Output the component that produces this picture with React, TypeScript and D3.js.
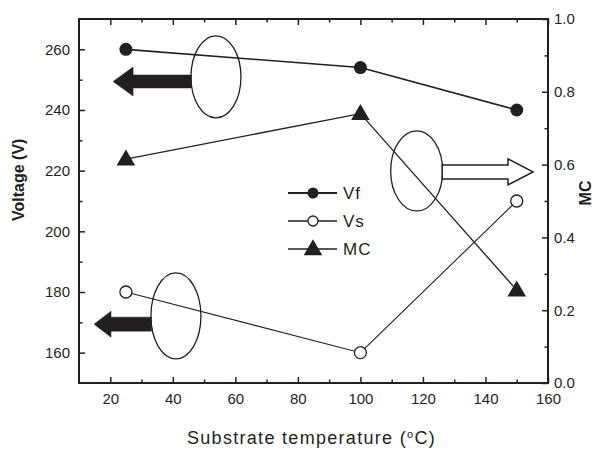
import React, { useEffect, useRef } from "react";
import * as d3 from "d3";

// substrate temperature (°C)
const temps = [25, 100, 150];
// voltages (V), left axis
const vf = [260, 254, 240];
const vs = [180, 160, 210];
// MC, right axis
const mc = [0.615, 0.74, 0.255];

const xTicks = [20, 40, 60, 80, 100, 120, 140, 160];
const xMinor = [30, 50, 70, 90, 110, 130, 150];
const vTicks = [160, 180, 200, 220, 240, 260];
const vMinor = [170, 190, 210, 230, 250];
const mcTicks = [0, 0.2, 0.4, 0.6, 0.8, 1.0];
const mcMinor = [0.1, 0.3, 0.5, 0.7, 0.9];

const legendLabels = ["Vf", "Vs", "MC"];

// annotation ellipses (centres in data units: temperature, voltage)
const ellipseX = [53.8, 41, 118];
const ellipseV = [250.9, 172.1, 219.9];
// arrows: tip temperature, voltage, and which ellipse they start from
const arrowTipX = [20.9, 14.8, 155.2];
const arrowV = [249.4, 169.4, 219.6];
const arrowFrom = [0, 1, 2];

const INK = "#231f20";
const FONT = "'Liberation Sans', Arial, sans-serif";

function App() {
    const ref = useRef(null);

    useEffect(() => {
        const width = 608;
        const height = 450;
        const margin = { top: 19, right: 60, bottom: 67, left: 79 };
        const innerW = width - margin.left - margin.right;
        const innerH = height - margin.top - margin.bottom;

        const root = d3.select(ref.current);
        root.selectAll("*").remove();

        const svg = root
            .attr("width", width)
            .attr("height", height)
            .style("background", "#fff");

        const g = svg.append("g").attr("transform", `translate(${margin.left},${margin.top})`);

        const x = d3.scaleLinear().domain([10, 160]).range([0, innerW]);
        const yV = d3.scaleLinear().domain([150, 270]).range([innerH, 0]);
        const yM = d3.scaleLinear().domain([0, 1]).range([innerH, 0]);

        const styleAxis = (sel, size = 15) => {
            sel.select(".domain").remove();
            sel.selectAll("line").attr("stroke", INK).attr("stroke-width", 1.5);
            sel.selectAll("text")
                .attr("fill", INK)
                .style("font-family", FONT)
                .style("font-size", `${size}px`);
        };

        // major axes with labels
        g.append("g")
            .attr("transform", `translate(0,${innerH})`)
            .call(d3.axisBottom(x).tickValues(xTicks).tickSize(-6).tickPadding(10))
            .call(styleAxis);
        g.append("g")
            .call(d3.axisLeft(yV).tickValues(vTicks).tickSize(-6).tickPadding(9))
            .call(styleAxis);
        g.append("g")
            .attr("transform", `translate(${innerW},0)`)
            .call(d3.axisRight(yM).tickValues(mcTicks).tickFormat(d3.format(".1f")).tickSize(-6).tickPadding(6))
            .call(styleAxis);
        g.append("g")
            .call(d3.axisTop(x).tickValues(xTicks).tickSize(-6).tickFormat(() => ""))
            .call(styleAxis);

        // minor ticks
        g.append("g")
            .attr("transform", `translate(0,${innerH})`)
            .call(d3.axisBottom(x).tickValues(xMinor).tickSize(-3.5).tickFormat(() => ""))
            .call(styleAxis);
        g.append("g")
            .call(d3.axisTop(x).tickValues(xMinor).tickSize(-3.5).tickFormat(() => ""))
            .call(styleAxis);
        g.append("g")
            .call(d3.axisLeft(yV).tickValues(vMinor).tickSize(-3.5).tickFormat(() => ""))
            .call(styleAxis);
        g.append("g")
            .attr("transform", `translate(${innerW},0)`)
            .call(d3.axisRight(yM).tickValues(mcMinor).tickSize(-3.5).tickFormat(() => ""))
            .call(styleAxis);

        // frame
        g.append("rect")
            .attr("width", innerW)
            .attr("height", innerH)
            .attr("fill", "none")
            .attr("stroke", INK)
            .attr("stroke-width", 2);

        // axis titles
        svg.append("text")
            .attr("transform", `translate(24,${margin.top + yV(217)}) rotate(-90)`)
            .attr("text-anchor", "middle")
            .style("font-family", FONT)
            .style("font-size", "16px")
            .style("font-weight", "bold")
            .attr("fill", INK)
            .text("Voltage (V)");

        svg.append("text")
            .attr("transform", `translate(591,${margin.top + yM(0.522)}) rotate(-90)`)
            .attr("text-anchor", "middle")
            .style("font-family", FONT)
            .style("font-size", "16px")
            .style("font-weight", "bold")
            .attr("fill", INK)
            .text("MC");

        const xt = svg.append("text")
            .attr("x", margin.left + innerW / 2 - 2)
            .attr("y", 444)
            .attr("text-anchor", "middle")
            .style("font-family", FONT)
            .style("font-size", "18px")
            .style("letter-spacing", "1.3px")
            .attr("fill", INK);
        xt.append("tspan").text("Substrate temperature (");
        xt.append("tspan").attr("dy", -6).style("font-size", "11px").text("o");
        xt.append("tspan").attr("dy", 6).text("C)");

        // data lines
        const series = [
            { vals: vf, y: yV, w: 1.6 },
            { vals: vs, y: yV, w: 1.1 },
            { vals: mc, y: yM, w: 1.3 },
        ];
        series.forEach((s) => {
            const line = d3.line().x((_, i) => x(temps[i])).y((d) => s.y(d));
            g.append("path")
                .datum(s.vals)
                .attr("d", line)
                .attr("fill", "none")
                .attr("stroke", INK)
                .attr("stroke-width", s.w);
        });

        // markers
        const tri = d3.symbol().type(d3.symbolTriangle).size(150);
        g.selectAll(".vf")
            .data(vf)
            .join("circle")
            .attr("cx", (_, i) => x(temps[i]))
            .attr("cy", (d) => yV(d))
            .attr("r", 6.5)
            .attr("fill", INK);
        g.selectAll(".vs")
            .data(vs)
            .join("circle")
            .attr("cx", (_, i) => x(temps[i]))
            .attr("cy", (d) => yV(d))
            .attr("r", 6)
            .attr("fill", "#fff")
            .attr("stroke", INK)
            .attr("stroke-width", 1.3);
        g.selectAll(".mc")
            .data(mc)
            .join("path")
            .attr("d", tri)
            .attr("transform", (d, i) => `translate(${x(temps[i])},${yM(d) + 1})`)
            .attr("fill", INK);

        // annotations: ellipses and arrows
        const rx = [25, 25, 26];
        const ry = [41, 43, 40];
        ellipseX.forEach((ex, i) => {
            g.append("ellipse")
                .attr("cx", x(ex))
                .attr("cy", yV(ellipseV[i]))
                .attr("rx", rx[i])
                .attr("ry", ry[i])
                .attr("fill", "none")
                .attr("stroke", INK)
                .attr("stroke-width", 1.3);
        });

        const arrowShape = [
            { shaft: 6.5, head: 14.5, len: 20, dir: -1, filled: true },
            { shaft: 7, head: 13, len: 17, dir: -1, filled: true },
            { shaft: 7, head: 13, len: 25, dir: 1, filled: false },
        ];
        arrowTipX.forEach((tx, i) => {
            const a = arrowShape[i];
            const e = arrowFrom[i];
            const tip = x(tx);
            const cy = yV(arrowV[i]);
            const tail = x(ellipseX[e]) + a.dir * (rx[e] - 0.5);
            const neck = tip - a.dir * a.len;
            const p = d3.path();
            p.moveTo(tip, cy);
            p.lineTo(neck, cy - a.head);
            p.lineTo(neck, cy - a.shaft);
            p.lineTo(tail, cy - a.shaft);
            p.lineTo(tail, cy + a.shaft);
            p.lineTo(neck, cy + a.shaft);
            p.lineTo(neck, cy + a.head);
            p.closePath();
            g.append("path")
                .attr("d", p.toString())
                .attr("fill", a.filled ? INK : "#fff")
                .attr("stroke", INK)
                .attr("stroke-width", a.filled ? 0.5 : 1.5)
                .attr("stroke-linejoin", "miter");
        });

        // legend
        const lg = svg.append("g").attr("transform", "translate(288,193)");
        legendLabels.forEach((label, i) => {
            const row = lg.append("g").attr("transform", `translate(0,${i * 28})`);
            row.append("line")
                .attr("x1", 0)
                .attr("x2", 49)
                .attr("stroke", INK)
                .attr("stroke-width", i === 0 ? 2.2 : 1.5);
            if (i === 0) {
                row.append("circle").attr("cx", 25).attr("r", 5.5).attr("fill", INK);
            } else if (i === 1) {
                row.append("circle").attr("cx", 25).attr("r", 5)
                    .attr("fill", "#fff").attr("stroke", INK).attr("stroke-width", 1.3);
            } else {
                row.append("path").attr("d", tri).attr("transform", "translate(25,1)").attr("fill", INK);
            }
            row.append("text")
                .attr("x", 55)
                .attr("y", 6)
                .style("font-family", FONT)
                .style("font-size", "17px")
                .style("letter-spacing", "1px")
                .attr("fill", INK)
                .text(label);
        });
    }, []);

    return (
        <svg
            ref={ref}
            style={{ position: "absolute", left: 0, top: 0, display: "block" }}
        />
    );
}

export default App;
